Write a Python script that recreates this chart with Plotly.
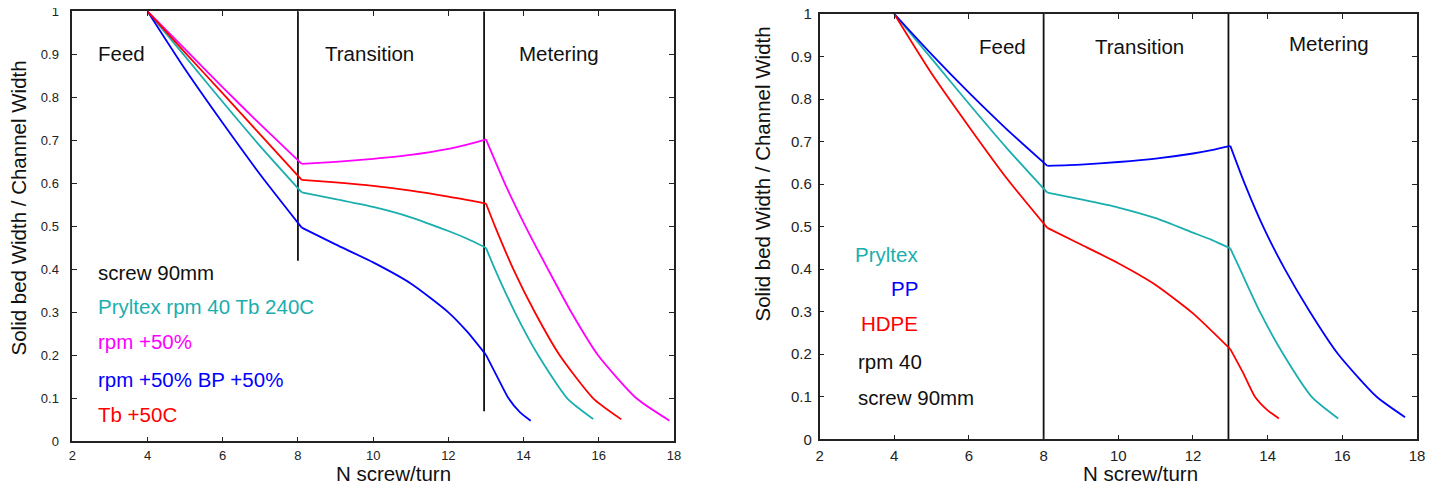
import plotly.graph_objects as go

W, H = 1443, 483
OFF = 8  # page body margin in the browser

# ---------------- data: left panel (Pryltex, process variations) ----------------
L_pryltex_x = [4, 5, 6, 7, 8.1, 9, 10, 11, 12, 12.5, 13, 13.24, 13.77, 14.39, 15.16, 15.85]
L_pryltex_y = [1, 0.895, 0.789, 0.686, 0.579, 0.563, 0.545, 0.521, 0.489, 0.471, 0.450, 0.40, 0.30, 0.20, 0.10, 0.052]

L_rpm_x = [4, 5, 6, 7, 8.1, 9, 10, 11, 12, 12.5, 13, 13.5, 14.05, 14.65, 15.27, 15.98, 17.0, 17.88]
L_rpm_y = [1, 0.912, 0.823, 0.737, 0.645, 0.650, 0.657, 0.666, 0.680, 0.690, 0.702, 0.60, 0.50, 0.40, 0.30, 0.20, 0.10, 0.048]

L_rpmbp_x = [4, 5, 6, 7, 8.1, 9, 10, 11, 12, 12.5, 13, 13.3, 13.6, 13.9, 14.19]
L_rpmbp_y = [1, 0.865, 0.74, 0.62, 0.497, 0.458, 0.416, 0.367, 0.300, 0.255, 0.201, 0.150, 0.100, 0.068, 0.048]

L_tb_x = [4, 5, 6, 7, 8.1, 9, 10, 11, 12, 13, 13.24, 13.73, 14.3, 14.96, 15.85, 16.6]
L_tb_y = [1, 0.904, 0.809, 0.713, 0.608, 0.602, 0.594, 0.583, 0.569, 0.553, 0.50, 0.40, 0.30, 0.20, 0.10, 0.051]

# zone boundaries (x) and their vertical extent in the left panel
L_bound_x = [8, 12.95]
L_bound_ylo = [0.42, 0.07]

# ---------------- data: right panel (materials) ----------------
R_pryltex_x = [4, 5, 6, 7, 8.1, 9, 10, 11, 12, 12.5, 13, 13.26, 13.79, 14.42, 15.18, 15.89]
R_pryltex_y = [1, 0.895, 0.789, 0.686, 0.580, 0.564, 0.545, 0.520, 0.486, 0.469, 0.449, 0.40, 0.30, 0.20, 0.10, 0.049]

R_pp_x = [4, 5, 6, 7, 8.1, 9, 10, 11, 12, 12.5, 13, 13.39, 13.88, 14.46, 15.13, 15.89, 16.92, 17.68]
R_pp_y = [1, 0.905, 0.815, 0.73, 0.643, 0.646, 0.652, 0.660, 0.672, 0.680, 0.690, 0.60, 0.50, 0.40, 0.30, 0.20, 0.10, 0.052]

R_hdpe_x = [4, 5, 6, 7, 8.1, 9, 10, 11, 12, 13, 13.35, 13.66, 14.0, 14.3]
R_hdpe_y = [1, 0.86, 0.735, 0.615, 0.497, 0.458, 0.414, 0.363, 0.296, 0.212, 0.155, 0.10, 0.068, 0.049]

R_bound_x = [8, 12.95]
R_bound_ylo = [0, 0]

# kink positions (zone changes) of the curves
kinks = [8.1, 13]

x_ticks = [2, 4, 6, 8, 10, 12, 14, 16, 18]
y_ticks = [0, 0.1, 0.2, 0.3, 0.4, 0.5, 0.6, 0.7, 0.8, 0.9, 1]
y_ticklabels = ["0", "0.1", "0.2", "0.3", "0.4", "0.5", "0.6", "0.7", "0.8", "0.9", "1"]

CYAN = "#1aaeae"
MAG = "#ff00ff"
BLUE = "#0000ff"
RED = "#ff0000"
INK = "#222222"
FONT = "Liberation Sans, Arial, sans-serif"

FW, FH = W - OFF, H - OFF

def px(x):
    return (x - OFF) / FW

def py(y):
    return 1 - (y - OFF) / FH

fig = go.Figure()

def add_line(x, y, color, xa, ya, shape="linear"):
    fig.add_trace(go.Scatter(x=x, y=y, mode="lines",
                             line=dict(color=color, width=1.8, shape=shape, smoothing=0.6),
                             xaxis=xa, yaxis=ya, showlegend=False, hoverinfo="skip"))

def add_curve(x, y, color, xa, ya):
    # draw each screw zone as its own smooth piece so the zone kinks stay sharp
    cuts = [0] + [x.index(k) for k in kinks if k in x] + [len(x) - 1]
    for a, b in zip(cuts[:-1], cuts[1:]):
        add_line(x[a:b + 1], y[a:b + 1], color, xa, ya, shape="spline")

# boundary lines
for bx, blo in zip(L_bound_x, L_bound_ylo):
    add_line([bx, bx], [blo, 1], "#111111", "x", "y")
for bx, blo in zip(R_bound_x, R_bound_ylo):
    add_line([bx, bx], [blo, 1], "#111111", "x2", "y2")

add_curve(L_pryltex_x, L_pryltex_y, CYAN, "x", "y")
add_curve(L_rpm_x, L_rpm_y, MAG, "x", "y")
add_curve(L_rpmbp_x, L_rpmbp_y, BLUE, "x", "y")
add_curve(L_tb_x, L_tb_y, RED, "x", "y")

add_curve(R_pryltex_x, R_pryltex_y, CYAN, "x2", "y2")
add_curve(R_pp_x, R_pp_y, BLUE, "x2", "y2")
add_curve(R_hdpe_x, R_hdpe_y, RED, "x2", "y2")

def xaxis(dom, anchor, size, standoff):
    return dict(domain=dom, anchor=anchor, range=[2, 18], tickvals=x_ticks,
                ticks="inside", ticklen=5, tickwidth=1.2, tickcolor=INK,
                showline=True, linecolor=INK, linewidth=1.5, mirror="ticks",
                showgrid=False, zeroline=False, automargin=False,
                ticklabelstandoff=standoff, ticklabeloverflow="allow",
                tickfont=dict(family=FONT, size=size, color=INK))

def yaxis(dom, anchor, size, standoff):
    return dict(domain=dom, anchor=anchor, range=[0, 1], tickvals=y_ticks, ticktext=y_ticklabels,
                ticks="inside", ticklen=5, tickwidth=1.2, tickcolor=INK,
                showline=True, linecolor=INK, linewidth=1.5, mirror="ticks",
                showgrid=False, zeroline=False, automargin=False,
                ticklabelstandoff=standoff, ticklabeloverflow="allow",
                tickfont=dict(family=FONT, size=size, color=INK))

ann = []

def text(t, x, y, color="#111111", xanchor="left", size=20.5, angle=0):
    ann.append(dict(text=t, x=px(x), y=py(y), xref="paper", yref="paper",
                    xanchor=xanchor, yanchor="middle", showarrow=False, textangle=angle,
                    font=dict(family=FONT, size=size, color=color)))

# left panel texts
text("Feed", 96, 54)
text("Transition", 323, 54)
text("Metering", 517, 54)
text("screw 90mm", 96, 272)
text("Pryltex rpm 40 Tb 240C", 96, 306, CYAN)
text("rpm +50%", 96, 341, MAG)
text("rpm +50% BP +50%", 96, 379, BLUE)
text("Tb +50C", 96, 414, RED)
text("N screw/turn", 393, 473, xanchor="center")
text("Solid bed Width / Channel Width", 18, 208.5, xanchor="center", angle=-90)

# right panel texts
text("Feed", 977, 47)
text("Transition", 1093, 47)
text("Metering", 1287, 44)
text("Pryltex", 920, 254, CYAN, xanchor="right")
text("PP", 920, 288, BLUE, xanchor="right")
text("HDPE", 920, 323, RED, xanchor="right")
text("rpm 40", 856, 361)
text("screw 90mm", 856, 397)
text("N screw/turn", 1140, 473, xanchor="center")
text("Solid bed Width / Channel Width", 762, 174.5, xanchor="center", angle=-90)

fig.update_layout(
    width=FW, height=FH,
    margin=dict(l=0, r=0, t=0, b=0),
    paper_bgcolor="white", plot_bgcolor="white",
    showlegend=False,
    xaxis=xaxis([px(72.3), px(674)], "y", 13, 1),
    yaxis=yaxis([py(441.3), py(11.3)], "x", 13, 9),
    xaxis2=xaxis([px(819.6), px(1417)], "y2", 15, 2),
    yaxis2=yaxis([py(439.3), py(14)], "x2", 15, 3),
    annotations=ann,
)

fig.write_html("out.html")
